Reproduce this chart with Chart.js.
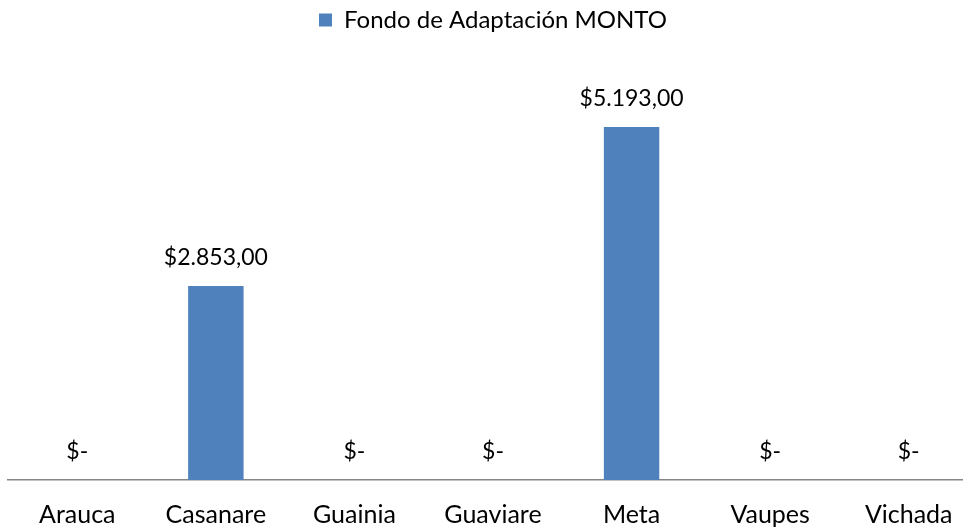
<!DOCTYPE html>
<html>
<head>
<meta charset="utf-8">
<script src="https://cdn.jsdelivr.net/npm/chart.js@4/dist/chart.umd.min.js"></script>
<style>
  html, body { margin: 0; padding: 0; background: #fff; overflow: hidden; }
  /* el gráfico original sigue un poco más allá del borde derecho */
  #wrap { width: 978px; height: 527px; }
</style>
</head>
<body>
<div id="wrap"><canvas id="grafico"></canvas></div>
<script>
const categorias = ['Arauca', 'Casanare', 'Guainia', 'Guaviare', 'Meta', 'Vaupes', 'Vichada'];
const montos = [0, 2853, 0, 0, 5193, 0, 0];
const serie = 'Fondo de Adaptación MONTO';

// formato tipo contabilidad: $2.853,00 o $- para cero
function formatoPeso(v) {
    if (v === 0) return '$-';
    const partes = v.toFixed(2).split('.');
    const entero = partes[0].replace(/\B(?=(\d{3})+(?!\d))/g, '.');
    return '$' + entero + ',' + partes[1];
}

// etiquetas encima de cada barra
const etiquetas = {
    id: 'etiquetas',
    afterDatasetsDraw(chart) {
        const c = chart.ctx;
        const meta = chart.getDatasetMeta(0);
        c.save();
        c.font = '23px Lato';
        c.fillStyle = '#000';
        c.textAlign = 'center';
        c.textBaseline = 'middle';
        meta.data.forEach((bar, i) => {
            c.fillText(formatoPeso(chart.data.datasets[0].data[i]), bar.x, bar.y - 28);
        });
        c.restore();
    }
};

// espacio extra debajo de la leyenda
const margenLeyenda = {
    id: 'margenLeyenda',
    beforeInit(chart) {
        const fitOriginal = chart.legend.fit;
        chart.legend.fit = function () {
            fitOriginal.bind(chart.legend)();
            this.height += 30;
        };
    }
};

new Chart(document.getElementById('grafico'), {
    type: 'bar',
    data: {
        labels: categorias,
        datasets: [{
            label: serie,
            data: montos,
            backgroundColor: '#4F81BD',
            borderWidth: 0,
            barPercentage: 0.4,
            categoryPercentage: 1
        }]
    },
    options: {
        responsive: true,
        maintainAspectRatio: false,
        animation: false,
        layout: { padding: { left: 8, right: 0, top: 0, bottom: 0 } },
        plugins: {
            legend: {
                position: 'top',
                labels: {
                    font: { family: 'Lato', size: 24 },
                    color: '#000',
                    boxWidth: 13,
                    boxHeight: 13,
                    padding: 8
                }
            },
            tooltip: { enabled: false }
        },
        scales: {
            x: {
                grid: { display: false, drawTicks: false },
                border: { display: true, color: '#868686', width: 1.5 },
                ticks: {
                    font: { family: 'Lato', size: 25 },
                    color: '#000',
                    padding: 20
                },
                afterFit(scale) {
                    scale.height = 47;
                }
            },
            y: {
                display: false,
                min: 0,
                max: 6000
            }
        }
    },
    plugins: [etiquetas, margenLeyenda]
});
</script>
</body>
</html>
